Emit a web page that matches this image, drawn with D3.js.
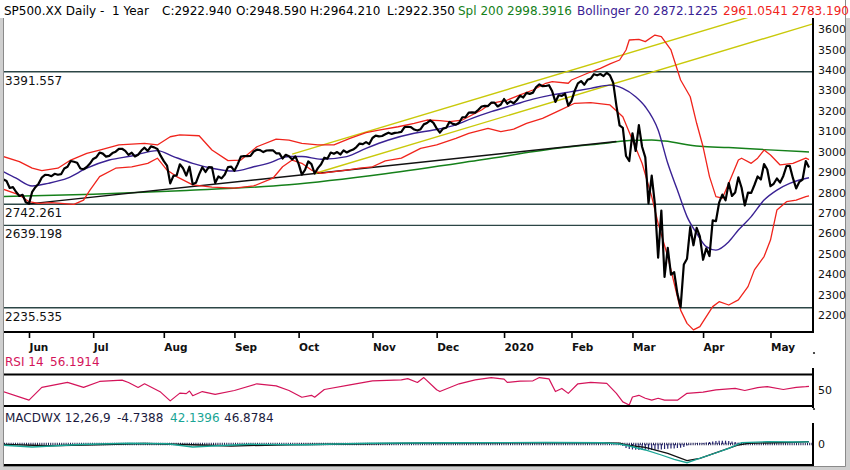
<!DOCTYPE html>
<html>
<head>
<meta charset="utf-8">
<script src="https://cdn.jsdelivr.net/npm/d3@7"></script>
<style>
	body { margin: 0; background: #fff; }
	svg { display: block; font-family: "DejaVu Sans", sans-serif; }
	text { white-space: pre; }
</style>
</head>
<body>
<svg id="chart" width="850" height="470"></svg>
<script>
// trading days shown on the chart
var dates = [
	"2019-05-20","2019-05-21","2019-05-22","2019-05-23","2019-05-24","2019-05-28","2019-05-29","2019-05-30","2019-05-31",
	"2019-06-03","2019-06-04","2019-06-05","2019-06-06","2019-06-07","2019-06-10","2019-06-11","2019-06-12","2019-06-13","2019-06-14","2019-06-17","2019-06-18","2019-06-19","2019-06-20","2019-06-21","2019-06-24","2019-06-25","2019-06-26","2019-06-27","2019-06-28",
	"2019-07-01","2019-07-02","2019-07-03","2019-07-05","2019-07-08","2019-07-09","2019-07-10","2019-07-11","2019-07-12","2019-07-15","2019-07-16","2019-07-17","2019-07-18","2019-07-19","2019-07-22","2019-07-23","2019-07-24","2019-07-25","2019-07-26","2019-07-29","2019-07-30","2019-07-31",
	"2019-08-01","2019-08-02","2019-08-05","2019-08-06","2019-08-07","2019-08-08","2019-08-09","2019-08-12","2019-08-13","2019-08-14","2019-08-15","2019-08-16","2019-08-19","2019-08-20","2019-08-21","2019-08-22","2019-08-23","2019-08-26","2019-08-27","2019-08-28","2019-08-29","2019-08-30",
	"2019-09-03","2019-09-04","2019-09-05","2019-09-06","2019-09-09","2019-09-10","2019-09-11","2019-09-12","2019-09-13","2019-09-16","2019-09-17","2019-09-18","2019-09-19","2019-09-20","2019-09-23","2019-09-24","2019-09-25","2019-09-26","2019-09-27","2019-09-30",
	"2019-10-01","2019-10-02","2019-10-03","2019-10-04","2019-10-07","2019-10-08","2019-10-09","2019-10-10","2019-10-11","2019-10-14","2019-10-15","2019-10-16","2019-10-17","2019-10-18","2019-10-21","2019-10-22","2019-10-23","2019-10-24","2019-10-25","2019-10-28","2019-10-29","2019-10-30","2019-10-31",
	"2019-11-01","2019-11-04","2019-11-05","2019-11-06","2019-11-07","2019-11-08","2019-11-11","2019-11-12","2019-11-13","2019-11-14","2019-11-15","2019-11-18","2019-11-19","2019-11-20","2019-11-21","2019-11-22","2019-11-25","2019-11-26","2019-11-27","2019-11-29",
	"2019-12-02","2019-12-03","2019-12-04","2019-12-05","2019-12-06","2019-12-09","2019-12-10","2019-12-11","2019-12-12","2019-12-13","2019-12-16","2019-12-17","2019-12-18","2019-12-19","2019-12-20","2019-12-23","2019-12-24","2019-12-26","2019-12-27","2019-12-30","2019-12-31",
	"2020-01-02","2020-01-03","2020-01-06","2020-01-07","2020-01-08","2020-01-09","2020-01-10","2020-01-13","2020-01-14","2020-01-15","2020-01-16","2020-01-17","2020-01-21","2020-01-22","2020-01-23","2020-01-24","2020-01-27","2020-01-28","2020-01-29","2020-01-30","2020-01-31",
	"2020-02-03","2020-02-04","2020-02-05","2020-02-06","2020-02-07","2020-02-10","2020-02-11","2020-02-12","2020-02-13","2020-02-14","2020-02-18","2020-02-19","2020-02-20","2020-02-21","2020-02-24","2020-02-25","2020-02-26","2020-02-27","2020-02-28",
	"2020-03-02","2020-03-03","2020-03-04","2020-03-05","2020-03-06","2020-03-09","2020-03-10","2020-03-11","2020-03-12","2020-03-13","2020-03-16","2020-03-17","2020-03-18","2020-03-19","2020-03-20","2020-03-23","2020-03-24","2020-03-25","2020-03-26","2020-03-27","2020-03-30","2020-03-31",
	"2020-04-01","2020-04-02","2020-04-03","2020-04-06","2020-04-07","2020-04-08","2020-04-09","2020-04-13","2020-04-14","2020-04-15","2020-04-16","2020-04-17","2020-04-20","2020-04-21","2020-04-22","2020-04-23","2020-04-24","2020-04-27","2020-04-28","2020-04-29","2020-04-30",
	"2020-05-01","2020-05-04","2020-05-05","2020-05-06","2020-05-07","2020-05-08","2020-05-11","2020-05-12","2020-05-13","2020-05-14","2020-05-15","2020-05-18","2020-05-19"
];

// daily close, one per trading day
var closes = [
	2840.23,2864.36,2856.27,2822.24,2826.06,2802.39,2783.02,2788.86,2752.06,
	2744.45,2803.27,2826.15,2843.49,2873.34,2886.73,2885.72,2879.84,2891.64,2886.98,2889.67,2917.75,2926.46,2954.18,2950.46,2945.35,2917.38,2913.78,2924.92,2941.76,
	2964.33,2973.01,2995.82,2990.41,2975.95,2979.63,2993.07,2999.91,3013.77,3014.30,3004.04,2984.42,2995.11,2976.61,2985.03,3005.47,3019.56,3003.67,3025.86,3020.97,3013.18,2980.38,
	2953.56,2932.05,2844.74,2881.77,2883.98,2938.09,2918.65,2882.70,2926.32,2840.60,2847.60,2888.68,2923.65,2900.51,2924.43,2922.95,2847.11,2878.38,2869.16,2887.94,2924.58,2926.46,
	2906.27,2937.78,2976.00,2978.71,2978.43,2979.39,3000.93,3009.57,3007.39,2997.96,3005.70,3006.73,3006.79,2992.07,2991.78,2966.60,2984.87,2977.62,2961.79,2976.74,
	2940.25,2887.61,2910.63,2952.01,2938.79,2893.06,2919.40,2938.13,2970.27,2966.15,2995.68,2989.69,2997.95,2986.20,3006.72,2995.99,3004.52,3010.29,3022.55,3039.42,3036.89,3046.77,3037.56,
	3066.91,3078.27,3074.62,3076.78,3085.18,3093.08,3087.01,3091.84,3094.04,3096.63,3120.46,3122.03,3120.18,3108.46,3103.54,3110.29,3133.64,3140.52,3153.63,3140.98,
	3113.87,3093.20,3112.76,3117.43,3145.91,3135.96,3132.52,3141.63,3168.57,3168.80,3191.45,3192.52,3191.14,3205.37,3221.22,3224.01,3223.38,3239.91,3240.02,3221.29,3230.78,
	3257.85,3234.85,3246.28,3237.18,3253.05,3274.70,3265.35,3288.13,3283.15,3289.29,3316.81,3329.62,3320.79,3321.75,3325.54,3295.47,3243.63,3276.24,3273.40,3283.66,3225.52,
	3248.92,3297.59,3334.69,3345.78,3327.71,3352.09,3357.75,3379.45,3373.94,3380.16,3370.29,3386.15,3373.23,3337.75,3225.89,3128.21,3116.39,2978.76,2954.22,
	3090.23,3003.37,3130.12,3023.94,2972.37,2746.56,2882.23,2741.38,2480.64,2711.02,2386.13,2529.19,2398.10,2409.39,2304.92,2237.40,2447.33,2475.56,2630.07,2541.47,2626.65,2584.59,
	2470.50,2526.90,2488.65,2663.68,2659.41,2749.98,2789.82,2761.63,2846.06,2783.36,2799.55,2874.56,2823.16,2736.56,2799.31,2797.80,2836.74,2878.48,2863.39,2939.51,2912.43,
	2830.71,2842.74,2868.44,2848.42,2881.19,2929.80,2930.32,2870.12,2820.00,2852.50,2863.70,2953.91,2922.94
];

var priceTicks = [2200, 2300, 2400, 2500, 2600, 2700, 2800, 2900, 3000, 3100, 3200, 3300, 3400, 3500, 3600];
var priceLevels = [3391.557, 2742.261, 2639.198, 2235.535];
var monthLabels = ["Jun", "Jul", "Aug", "Sep", "Oct", "Nov", "Dec", "2020", "Feb", "Mar", "Apr", "May"];

// Bollinger 20
var upperBand = [
	["2019-05-21",2976],["2019-05-29",2951],["2019-06-04",2919],["2019-06-07",2907],["2019-06-14",2919],["2019-06-20",2959],["2019-06-27",2992],
	["2019-07-03",3008],["2019-07-12",3033],["2019-07-24",3041],["2019-07-30",3033],["2019-08-05",3073],["2019-08-08",3082],["2019-08-16",3078],
	["2019-08-22",3008],["2019-08-29",2956],["2019-09-05",2959],["2019-09-12",3024],["2019-09-20",3061],["2019-09-26",3057],["2019-10-02",3041],
	["2019-10-09",3033],["2019-10-16",3033],["2019-10-23",3065],["2019-10-30",3093],["2019-11-05",3106],["2019-11-13",3122],["2019-11-20",3139],
	["2019-11-26",3155],["2019-12-03",3152],["2019-12-06",3147],["2019-12-12",3155],["2019-12-20",3204],["2019-12-26",3237],["2020-01-03",3253],
	["2020-01-09",3278],["2020-01-15",3302],["2020-01-22",3335],["2020-01-24",3343],["2020-01-31",3335],["2020-02-03",3351],["2020-02-10",3384],
	["2020-02-14",3408],["2020-02-20",3430],["2020-02-25",3449],["2020-02-27",3498],["2020-02-28",3547],["2020-03-04",3550],["2020-03-06",3539],
	["2020-03-11",3571],["2020-03-13",3563],["2020-03-18",3498],["2020-03-23",3351],["2020-03-26",3269],["2020-03-30",3139],["2020-04-01",3024],
	["2020-04-03",2878],["2020-04-07",2780],["2020-04-09",2772],["2020-04-14",2845],["2020-04-17",2959],["2020-04-20",2968],["2020-04-23",2943],
	["2020-04-27",2968],["2020-04-29",3008],["2020-05-01",2984],["2020-05-06",2935],["2020-05-12",2943],["2020-05-18",2968],["2020-05-19",2961.05]
];
var midBand = [
	["2019-05-21",2902],["2019-05-28",2870],["2019-06-04",2832],["2019-06-11",2845],["2019-06-19",2870],["2019-06-27",2919],["2019-07-09",2959],
	["2019-07-18",2979],["2019-07-30",3005],["2019-08-06",2976],["2019-08-14",2943],["2019-08-22",2919],["2019-09-03",2905],["2019-09-11",2926],
	["2019-09-19",2951],["2019-09-23",2965],["2019-09-26",2976],["2019-10-02",2976],["2019-10-10",2963],["2019-10-22",2976],["2019-10-30",3016],
	["2019-11-08",3057],["2019-11-20",3090],["2019-11-29",3106],["2019-12-10",3131],["2019-12-17",3163],["2019-12-26",3196],["2020-01-07",3229],
	["2020-01-15",3257],["2020-01-24",3278],["2020-02-03",3294],["2020-02-11",3310],["2020-02-20",3326],["2020-02-26",3310],["2020-03-03",3269],
	["2020-03-06",3220],["2020-03-12",3106],["2020-03-17",2943],["2020-03-20",2812],["2020-03-25",2682],["2020-03-30",2600],["2020-04-02",2535],
	["2020-04-07",2518],["2020-04-14",2559],["2020-04-17",2616],["2020-04-23",2682],["2020-04-29",2763],["2020-05-05",2812],["2020-05-11",2845],
	["2020-05-14",2861],["2020-05-19",2872.12]
];
var lowerBand = [
	["2019-05-21",2816],["2019-05-29",2788],["2019-06-03",2755],["2019-06-06",2747],["2019-06-12",2750],["2019-06-21",2742],["2019-06-26",2763],
	["2019-06-28",2812],["2019-07-03",2878],["2019-07-11",2919],["2019-07-18",2926],["2019-07-25",2943],["2019-07-30",2968],["2019-08-02",2910],
	["2019-08-07",2878],["2019-08-14",2837],["2019-08-22",2826],["2019-09-03",2821],["2019-09-11",2832],["2019-09-19",2870],["2019-09-24",2926],
	["2019-09-27",2959],["2019-10-02",2943],["2019-10-07",2910],["2019-10-10",2894],["2019-10-16",2902],["2019-10-22",2910],["2019-10-28",2919],
	["2019-11-01",2926],["2019-11-07",2955],["2019-11-14",2968],["2019-11-22",3016],["2019-12-02",3033],["2019-12-10",3065],["2019-12-16",3090],
	["2019-12-24",3114],["2019-12-31",3098],["2020-01-07",3110],["2020-01-13",3139],["2020-01-21",3163],["2020-01-28",3200],["2020-02-04",3237],
	["2020-02-11",3240],["2020-02-20",3229],["2020-02-26",3171],["2020-03-02",3057],["2020-03-05",2943],["2020-03-10",2780],["2020-03-12",2649],
	["2020-03-17",2486],["2020-03-19",2355],["2020-03-23",2224],["2020-03-25",2159],["2020-03-27",2127],["2020-03-31",2143],["2020-04-02",2192],
	["2020-04-06",2241],["2020-04-08",2265],["2020-04-14",2249],["2020-04-17",2274],["2020-04-22",2339],["2020-04-24",2421],["2020-04-29",2486],
	["2020-05-01",2567],["2020-05-05",2714],["2020-05-08",2755],["2020-05-13",2763],["2020-05-18",2780],["2020-05-19",2783.19]
];
var sma200 = [
	["2019-05-20",2780],["2019-07-01",2792],["2019-08-12",2810],["2019-09-26",2838],["2019-11-07",2892],["2019-12-20",2960],["2020-01-27",3015],
	["2020-02-20",3044],["2020-02-28",3055],["2020-03-10",3057],["2020-03-16",3052],["2020-03-31",3026],["2020-04-14",3020],["2020-04-29",3010],
	["2020-05-19",2998.39]
];

// hand drawn lines: support and the two channel lines
var supportLine = [["2019-06-03", 2744.45], ["2020-02-24", 3050]];
var channelLow = [["2019-10-08", 2893], ["2020-05-19", 3620]];
var channelHigh = [["2019-09-27", 2988], ["2020-04-22", 3658]];

var rsi14 = [
	["2019-05-21",46],["2019-06-03",29.4],["2019-06-07",54],["2019-06-19",63.6],["2019-06-26",54],["2019-07-03",65.5],["2019-07-15",68],
	["2019-07-17",63.6],["2019-07-22",54],["2019-07-24",61],["2019-07-31",45],["2019-08-05",28],["2019-08-08",43],["2019-08-12",42],
	["2019-08-13",47],["2019-08-14",38],["2019-08-19",46],["2019-08-23",40.6],["2019-09-03",48],["2019-09-12",61],["2019-09-20",57],
	["2019-09-26",48],["2019-10-02",35],["2019-10-07",38.7],["2019-10-08",35],["2019-10-11",50],["2019-10-23",59],["2019-11-01",66.8],
	["2019-11-14",68.6],["2019-11-18",71],["2019-11-21",63.6],["2019-11-25",73],["2019-12-02",49.4],["2019-12-03",46],["2019-12-11",61],
	["2019-12-18",68.6],["2019-12-26",73],["2020-01-02",70],["2020-01-03",63.6],["2020-01-09",66],["2020-01-15",66.8],["2020-01-17",73],
	["2020-01-23",70.5],["2020-01-27",46],["2020-01-29",52],["2020-01-31",42.5],["2020-02-05",61],["2020-02-11",63.6],["2020-02-19",61.7],
	["2020-02-24",42.5],["2020-02-26",26],["2020-02-28",20],["2020-03-02",35.5],["2020-03-04",38.7],["2020-03-06",33],["2020-03-10",29.4],
	["2020-03-12",33],["2020-03-16",29.4],["2020-03-20",29.4],["2020-03-25",42.5],["2020-04-01",45],["2020-04-07",49.4],["2020-04-16",52],
	["2020-04-21",48],["2020-04-27",53.7],["2020-04-30",55.5],["2020-05-07",50],["2020-05-13",54],["2020-05-18",55.5],["2020-05-19",56.19]
];

var macdLine = [
	["2019-05-20",-20],["2019-06-04",-60],["2019-06-25",-10],["2019-07-17",15],["2019-08-02",5],["2019-08-14",-60],["2019-08-22",-40],
	["2019-09-10",-5],["2019-10-03",-15],["2019-10-31",15],["2019-12-06",25],["2020-01-22",30],["2020-02-18",25],["2020-02-25",0],
	["2020-02-28",-40],["2020-03-06",-120],["2020-03-13",-220],["2020-03-19",-306],["2020-03-25",-374],["2020-03-30",-306],["2020-04-06",-200],
	["2020-04-14",-86],["2020-04-20",26],["2020-04-30",46],["2020-05-12",40],["2020-05-19",42.14]
];
var macdSignal = [
	["2019-05-20",-5],["2019-06-11",-35],["2019-07-02",-15],["2019-07-24",10],["2019-08-14",-15],["2019-08-30",-40],["2019-09-26",-15],
	["2019-10-24",0],["2019-11-21",18],["2020-01-07",25],["2020-02-12",28],["2020-02-25",15],["2020-02-27",-20],["2020-03-06",-66],
	["2020-03-17",-186],["2020-03-25",-334],["2020-03-31",-286],["2020-04-08",-154],["2020-04-17",-20],["2020-04-22",14],["2020-05-12",34],
	["2020-05-19",46.88]
];
var macdHist = [
	["2020-02-25",-10],["2020-02-26",-40],["2020-02-27",-80],["2020-02-28",-100],["2020-03-02",-110],["2020-03-03",-115],["2020-03-04",-120],
	["2020-03-05",-120],["2020-03-06",-115],["2020-03-09",-115],["2020-03-10",-120],["2020-03-11",-115],["2020-03-12",-110],["2020-03-13",-110],
	["2020-03-16",-100],["2020-03-17",-95],["2020-03-18",-90],["2020-03-19",-90],["2020-03-20",-80],["2020-03-23",-75],["2020-03-24",-60],
	["2020-03-25",-30],["2020-03-26",-10],["2020-03-27",5],["2020-03-30",10],["2020-03-31",15],["2020-04-01",20],["2020-04-02",30],
	["2020-04-03",40],["2020-04-06",50],["2020-04-07",60],["2020-04-08",66],["2020-04-09",66],["2020-04-13",66],["2020-04-14",60],
	["2020-04-15",50],["2020-04-16",40],["2020-04-17",25],["2020-04-20",10]
];

var width = 850,
	height = 470,
	plotLeft = 4,
	plotRight = 813,
	mainTop = 18,
	mainBottom = 332;

var svg = d3.select("#chart");

var x = d3.scalePoint().domain(dates).range([0.1, 809]);
var y = d3.scaleLinear().domain([2200, 3400]).range([315, 70]);
var yRsi = d3.scaleLinear().domain([20, 78]).range([405, 375]);
var yMacd = d3.scaleLinear().domain([-420, 420]).range([465, 423]);

var closeData = dates.map(function(d, i) { return [d, closes[i]]; });

// outer window frame
svg.append("rect").attr("width", width).attr("height", height).attr("fill", "#cfcfcf");
svg.append("rect").attr("x", 3).attr("y", 0).attr("width", 843).attr("height", 466).attr("fill", "#fff");
svg.append("rect").attr("x", 0).attr("y", 0).attr("width", 850).attr("height", 18).attr("fill", "#fff");
svg.append("path")
	.attr("d", "M3.5,18V466.5H845.5V0")
	.attr("fill", "none")
	.attr("stroke", "#8a8a8a")
	.attr("stroke-width", 1);

var defs = svg.append("defs");
function addClip(id, top, bottom) {
	defs.append("clipPath").attr("id", id)
		.append("rect")
		.attr("x", plotLeft).attr("y", top)
		.attr("width", plotRight - plotLeft).attr("height", bottom - top);
}
addClip("clip-main", mainTop, mainBottom);
addClip("clip-rsi", 375, 406);
addClip("clip-macd", 423, 465);

var main = svg.append("g").attr("clip-path", "url(#clip-main)");

function pairLine(yScale) {
	return d3.line()
		.x(function(d) { return x(d[0]); })
		.y(function(d) { return yScale(d[1]); });
}

// horizontal levels
main.selectAll(".level")
	.data(priceLevels)
	.enter().append("line")
	.attr("class", "level")
	.attr("x1", plotLeft).attr("x2", plotRight)
	.attr("y1", function(d) { return y(d); })
	.attr("y2", function(d) { return y(d); })
	.attr("stroke", "#2c4646")
	.attr("stroke-width", 1.4);

svg.selectAll(".levelLabel")
	.data(priceLevels)
	.enter().append("text")
	.attr("class", "levelLabel")
	.attr("x", 5)
	.attr("y", function(d) { return y(d) + 13; })
	.attr("font-size", 12)
	.attr("fill", "#111")
	.text(function(d) { return d3.format(".3f")(d); });

// 200 day line
main.append("path")
	.datum(sma200)
	.attr("d", pairLine(y).curve(d3.curveMonotoneX))
	.attr("fill", "none")
	.attr("stroke", "#15801a")
	.attr("stroke-width", 1.5);

// trend lines, the channel ones run on to the right edge
function extendedLine(pts, extend) {
	var x0 = x(pts[0][0]), y0 = y(pts[0][1]),
		x1 = x(pts[1][0]), y1 = y(pts[1][1]);
	if(extend) {
		var slope = (y1 - y0) / (x1 - x0);
		y1 = y1 + slope * (plotRight - x1);
		x1 = plotRight;
	}
	return "M" + x0 + "," + y0 + "L" + x1 + "," + y1;
}

main.append("path")
	.attr("d", extendedLine(supportLine, false))
	.attr("stroke", "#111")
	.attr("stroke-width", 1.4)
	.attr("fill", "none");

[channelHigh, channelLow].forEach(function(pts) {
	main.append("path")
		.attr("d", extendedLine(pts, true))
		.attr("stroke", "#c9c90a")
		.attr("stroke-width", 1.4)
		.attr("fill", "none");
});

// Bollinger
[upperBand, lowerBand].forEach(function(band) {
	main.append("path")
		.datum(band)
		.attr("d", pairLine(y))
		.attr("fill", "none")
		.attr("stroke", "#f0241c")
		.attr("stroke-width", 1.3)
		.attr("stroke-linejoin", "round");
});

main.append("path")
	.datum(midBand)
	.attr("d", pairLine(y).curve(d3.curveMonotoneX))
	.attr("fill", "none")
	.attr("stroke", "#3a2294")
	.attr("stroke-width", 1.4);

// price
main.append("path")
	.datum(closeData)
	.attr("d", pairLine(y))
	.attr("fill", "none")
	.attr("stroke", "#000")
	.attr("stroke-width", 2.2)
	.attr("stroke-linejoin", "round");

// right price axis
var yAxis = svg.append("g")
	.attr("transform", "translate(" + plotRight + ",0)")
	.call(d3.axisRight(y).tickValues(priceTicks).tickSize(0).tickPadding(5).tickFormat(d3.format("d")));
yAxis.select(".domain").remove();
yAxis.selectAll("text").attr("font-size", 11).attr("fill", "#111").attr("font-family", "DejaVu Sans");

svg.append("line")
	.attr("x1", plotRight).attr("x2", plotRight)
	.attr("y1", mainTop).attr("y2", mainBottom + 1)
	.attr("stroke", "#000").attr("stroke-width", 2);
svg.append("line")
	.attr("x1", plotLeft).attr("x2", plotRight + 1)
	.attr("y1", mainBottom).attr("y2", mainBottom)
	.attr("stroke", "#000").attr("stroke-width", 2);

// month ticks
var monthTicks = [];
dates.forEach(function(d, i) {
	if(i > 0 && d.slice(0, 7) !== dates[i - 1].slice(0, 7)) monthTicks.push(d);
});

var xAxis = svg.append("g")
	.attr("transform", "translate(0," + mainBottom + ")")
	.call(d3.axisBottom(x).tickValues(monthTicks).tickSize(6).tickSizeOuter(0)
		.tickFormat(function(d, i) { return monthLabels[i]; }));
xAxis.select(".domain").remove();
xAxis.selectAll("line").attr("stroke", "#000").attr("stroke-width", 1.6);
xAxis.selectAll("text")
	.attr("text-anchor", "start")
	.attr("x", 0)
	.attr("y", 19)
	.attr("dy", null)
	.attr("font-size", 10.5)
	.attr("font-weight", "bold")
	.attr("font-family", "DejaVu Sans")
	.attr("fill", "#111");

// header
var header = svg.append("text").attr("y", 15).attr("font-size", 12);
[
	["SP500.XX Daily -  1 Year", 4, "#000"],
	["C:2922.940", 162, "#000"],
	["O:2948.590", 236, "#000"],
	["H:2964.210", 310, "#000"],
	["L:2922.350", 387, "#000"],
	["Spl 200 2998.3916", 458, "#15801a"],
	["Bollinger 20 2872.1225", 577, "#3a2294"],
	["2961.0541 2783.190", 723, "#f0241c"]
].forEach(function(s) {
	header.append("tspan").attr("x", s[1]).attr("fill", s[2]).text(s[0]);
});

// RSI panel
var rsiTitle = svg.append("text").attr("y", 366).attr("font-size", 12).attr("fill", "#d4145a");
rsiTitle.append("tspan").attr("x", 5).text("RSI 14");
rsiTitle.append("tspan").attr("x", 50).text("56.1914");

svg.append("g").attr("clip-path", "url(#clip-rsi)")
	.append("path")
	.datum(rsi14)
	.attr("d", pairLine(yRsi))
	.attr("fill", "none")
	.attr("stroke", "#d4145a")
	.attr("stroke-width", 1.2)
	.attr("stroke-linejoin", "round");

[374.5, 406].forEach(function(ly) {
	svg.append("line")
		.attr("x1", plotLeft).attr("x2", plotRight + 1)
		.attr("y1", ly).attr("y2", ly)
		.attr("stroke", "#000").attr("stroke-width", 2);
});
svg.append("line")
	.attr("x1", plotRight).attr("x2", plotRight)
	.attr("y1", 368).attr("y2", 408)
	.attr("stroke", "#000").attr("stroke-width", 2);

var rsiAxis = svg.append("g")
	.attr("transform", "translate(" + plotRight + ",0)")
	.call(d3.axisRight(yRsi).tickValues([50]).tickSize(0).tickPadding(5));
rsiAxis.select(".domain").remove();
rsiAxis.selectAll("text").attr("font-size", 11).attr("fill", "#111").attr("font-family", "DejaVu Sans");

svg.selectAll(".dot")
	.data([353, 409])
	.enter().append("circle")
	.attr("cx", 814).attr("cy", function(d) { return d; })
	.attr("r", 1.1).attr("fill", "#222");

// MACD panel
var macdTitle = svg.append("text").attr("y", 422).attr("font-size", 12);
macdTitle.append("tspan").attr("x", 5).attr("fill", "#1b1b40").text("MACDWX 12,26,9");
macdTitle.append("tspan").attr("x", 117).attr("fill", "#1b1b40").text("-4.7388");
macdTitle.append("tspan").attr("x", 170).attr("fill", "#1aa595").text("42.1396");
macdTitle.append("tspan").attr("x", 224).attr("fill", "#1b1b40").text("46.8784");

var macdG = svg.append("g").attr("clip-path", "url(#clip-macd)");

macdG.append("line")
	.attr("x1", plotLeft).attr("x2", plotRight)
	.attr("y1", yMacd(0)).attr("y2", yMacd(0))
	.attr("stroke", "#1e1e50")
	.attr("stroke-width", 2.4)
	.attr("stroke-dasharray", "1,1.2");

macdG.selectAll(".hist")
	.data(macdHist)
	.enter().append("line")
	.attr("class", "hist")
	.attr("x1", function(d) { return x(d[0]); })
	.attr("x2", function(d) { return x(d[0]); })
	.attr("y1", yMacd(0))
	.attr("y2", function(d) { return yMacd(d[1]); })
	.attr("stroke", "#23236e")
	.attr("stroke-width", 1.2);

macdG.append("path")
	.datum(macdSignal)
	.attr("d", pairLine(yMacd))
	.attr("fill", "none")
	.attr("stroke", "#111")
	.attr("stroke-width", 1.3);

macdG.append("path")
	.datum(macdLine)
	.attr("d", pairLine(yMacd))
	.attr("fill", "none")
	.attr("stroke", "#1aa595")
	.attr("stroke-width", 1.3);

svg.append("line")
	.attr("x1", plotRight).attr("x2", plotRight)
	.attr("y1", 423).attr("y2", 466)
	.attr("stroke", "#000").attr("stroke-width", 2);
svg.append("line")
	.attr("x1", plotLeft).attr("x2", plotRight + 1)
	.attr("y1", 465).attr("y2", 465)
	.attr("stroke", "#000").attr("stroke-width", 2);

var macdAxis = svg.append("g")
	.attr("transform", "translate(" + plotRight + ",0)")
	.call(d3.axisRight(yMacd).tickValues([0]).tickSize(0).tickPadding(5));
macdAxis.select(".domain").remove();
macdAxis.selectAll("text").attr("font-size", 11).attr("fill", "#111").attr("font-family", "DejaVu Sans");
</script>
</body>
</html>
